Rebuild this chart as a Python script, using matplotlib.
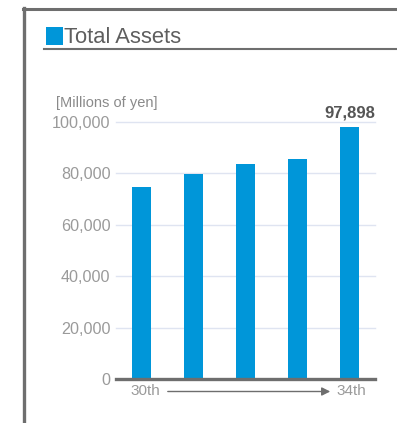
import matplotlib
matplotlib.use("Agg")
import matplotlib.pyplot as plt
from matplotlib.lines import Line2D
from matplotlib.patches import Rectangle, FancyArrowPatch

# fiscal periods and total assets (millions of yen)
periods = ["30th", "31st", "32nd", "33rd", "34th"]
assets = [74600, 79700, 83600, 85500, 97898]
yticks = [0, 20000, 40000, 60000, 80000, 100000]

W, H = 397, 423
plt.rcParams['font.family'] = ['Liberation Sans', 'DejaVu Sans']

fig = plt.figure(figsize=(W / 100, H / 100), dpi=100)


def fx(px):
    return px / W


def fy(py):
    return 1 - py / H


# outer frame (top and left edges)
fig.add_artist(Line2D([fx(23.2), fx(397)], [fy(9.5), fy(9.5)], color="#6e6e6e", lw=2.2))
fig.add_artist(Line2D([fx(24.3), fx(24.3)], [fy(8.5), fy(423)], color="#6e6e6e", lw=2.4))

# heading
fig.add_artist(Rectangle((fx(45.7), fy(45)), fx(17.6), 18.3 / H, color="#0096d9", lw=0))
fig.text(fx(64), fy(37.5), "Total Assets", fontsize=15.8, color="#5e5e5e", va="center", ha="left")
fig.add_artist(Line2D([fx(43.5), fx(397)], [fy(48.6), fy(48.6)], color="#6e6e6e", lw=1.5))

# chart area
ax = fig.add_axes([fx(116), fy(379.3), 259 / W, 257.6 / H])
x = range(len(assets))
ax.bar(x, assets, width=0.37, color="#0096d9", zorder=3)
ax.set_xlim(-0.5, len(assets) - 0.5)
ax.set_ylim(0, 100000)
ax.set_yticks(yticks)
ax.set_yticklabels([f"{v:,}" for v in yticks], fontsize=11.6, color="#9a9a9a")
ax.tick_params(axis="y", length=0, pad=4)
ax.set_xticks([])
for v in yticks[1:]:
    ax.axhline(v, color="#dfe4f1", lw=1, zorder=1, clip_on=False)
ax.axhline(0, color="#6e6e6e", lw=2.4, zorder=4, clip_on=False)
for s in ax.spines.values():
    s.set_visible(False)

fig.text(fx(56), fy(103), "[Millions of yen]", fontsize=10.5, color="#8a8a8a",
         ha="left", va="center")
ax.annotate(f"{assets[-1]:,}", (len(assets) - 0.5, assets[-1]), xytext=(0, 5),
            textcoords="offset points", ha="right", va="bottom",
            fontsize=12, fontweight="bold", color="#555555", annotation_clip=False)

# period axis: first -> last
fig.text(fx(130), fy(391), periods[0], fontsize=11, color="#9a9a9a", ha="left", va="center")
fig.text(fx(336), fy(391), periods[-1], fontsize=11, color="#9a9a9a", ha="left", va="center")
fig.add_artist(FancyArrowPatch(
    (fx(165), fy(391.5)), (fx(333), fy(391.5)), transform=fig.transFigure,
    arrowstyle="-|>,head_length=5,head_width=2.5", color="#6e6e6e", lw=1))

fig.savefig("out.png", dpi=100)
